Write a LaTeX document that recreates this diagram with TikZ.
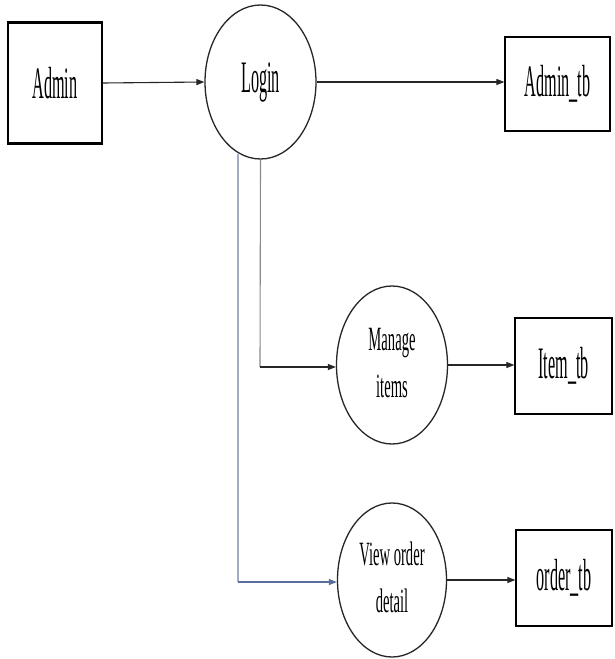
\documentclass[tikz,border=0pt]{standalone}
\usepackage{graphicx}
\usepackage{fontspec}
\setmainfont{Liberation Serif}
\usetikzlibrary{arrows.meta,shapes.geometric}
\definecolor{lightblueline}{HTML}{A4ABC2}
\definecolor{blueline}{HTML}{5A6E9C}
\definecolor{grayline}{HTML}{8A8A8A}
\newcommand{\boxlabel}[1]{\scalebox{0.36}[1]{\fontsize{45}{47}\selectfont #1}}
\newcommand{\proclabel}[1]{\scalebox{0.43}[1]{\fontsize{34}{47}\selectfont\begin{tabular}{@{}c@{}}#1\end{tabular}}}
\begin{document}
\begin{tikzpicture}[x=1pt,y=-1pt,
  entity/.style={draw=black,line width=1.3pt,rectangle,inner sep=0pt},
  proc/.style={draw=black!85,line width=1.3pt,ellipse,inner sep=0pt},
  flow/.style={draw=black!85,line width=1.1pt,-{Triangle[length=8pt,width=6pt]}},
  thickedge/.style={line width=2.6pt,black}]
\useasboundingbox (0,0) rectangle (615,659);
\fill[white] (0,0) rectangle (615,659);

\node[entity,minimum width=94pt,minimum height=120pt] (admin) at (55,83) {\boxlabel{Admin}};
\node[proc,minimum width=111pt,minimum height=154pt] (login) at (260.5,82) {\boxlabel{Login}};
\node[entity,minimum width=105pt,minimum height=93pt] (admintb) at (557.5,84) {\boxlabel{Admin\_tb}};
\node[proc,minimum width=111pt,minimum height=158pt] (manage) at (392,365) {\proclabel{Manage\\items}};
\node[entity,minimum width=97pt,minimum height=95pt] (itemtb) at (563.5,366) {\boxlabel{Item\_tb}};
\node[proc,minimum width=109pt,minimum height=154pt] (view) at (392,580) {\proclabel{View order\\detail}};
\node[entity,minimum width=96pt,minimum height=95pt] (ordertb) at (564,578) {\boxlabel{order\_tb}};

% thicker top and bottom edges of the boxes
\foreach \n in {admin,admintb,itemtb,ordertb}{
  \draw[thickedge] (\n.north west) -- (\n.north east);
  \draw[thickedge] (\n.south west) -- (\n.south east);
}

% connectors
\draw[flow] (admin.east) -- (login.west);
\draw[flow] (login.east) -- (login.east -| admintb.west);
\coordinate (mcorner) at (260,367);
\draw[grayline,line width=1.1pt] (login.south) -- (mcorner);
\draw[flow] (mcorner) -- (mcorner -| manage.west);
\draw[flow] (manage.east) -- (manage.east -| itemtb.west);
\coordinate (vtop) at (238,154);
\coordinate (vcorner) at (238,582);
\draw[lightblueline,line width=1.1pt] (vtop) -- (vcorner);
\draw[blueline,line width=1.1pt,-{Triangle[length=8pt,width=6pt]}] (vcorner) -- (vcorner -| view.west);
\draw[flow] (view.east) -- (view.east -| ordertb.west);
\end{tikzpicture}
\end{document}
